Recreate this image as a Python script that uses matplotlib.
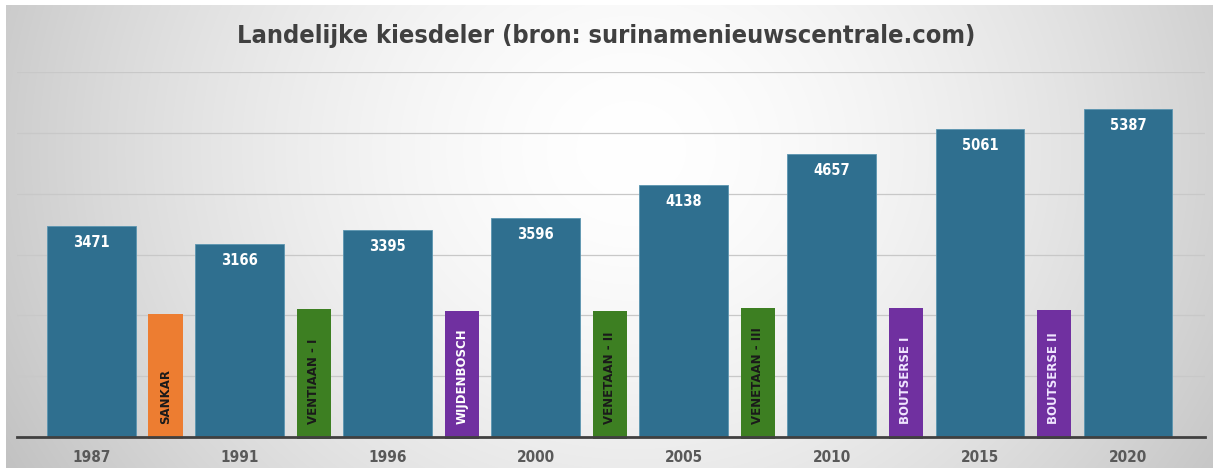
import numpy as np
import matplotlib
matplotlib.use("Agg")
import matplotlib.pyplot as plt
from matplotlib import font_manager
from matplotlib.font_manager import FontProperties

years = ["1987", "1991", "1996", "2000", "2005", "2010", "2015", "2020"]
kiesdeler = [3471, 3166, 3395, 3596, 4138, 4657, 5061, 5387]
presidents = ["SANKAR", "VENTIAAN - I", "WIJDENBOSCH", "VENETAAN - II",
              "VENETAAN - III", "BOUTSERSE I", "BOUTSERSE II"]
president_heights = [2030, 2100, 2070, 2070, 2120, 2120, 2090]
president_colors = ["#ED7D31", "#3D7F22", "#7030A0", "#3D7F22",
                    "#3D7F22", "#7030A0", "#7030A0"]
president_text = ["#1a1a1a", "#1a1a1a", "#ffffff", "#1a1a1a",
                  "#1a1a1a", "#f0e6ff", "#f0e6ff"]
title = "Landelijke kiesdeler (bron: surinamenieuwscentrale.com)"

# try to find a condensed bold face
cond_fp = None
try:
    p = font_manager.findfont(FontProperties(family="DejaVu Sans", stretch="condensed",
                                             weight="bold"), fallback_to_default=False)
    if "ondensed" in p:
        cond_fp = p
except Exception:
    pass
if cond_fp is None:
    for f in font_manager.fontManager.ttflist:
        if ("Narrow" in f.fname or "Condensed" in f.fname) and f.weight in (700, "bold"):
            cond_fp = f.fname
            break


def fp(size):
    if cond_fp:
        return FontProperties(fname=cond_fp, size=size)
    return FontProperties(family="DejaVu Sans", weight="bold", size=size * 0.86)


W, H = 1213, 468
fig = plt.figure(figsize=(W / 100, H / 100), dpi=100)

# background radial gradient
bg = fig.add_axes([0, 0, 1, 1])
yy, xx = np.mgrid[0:H, 0:W]
dx = (xx - W * 0.52) / (W * 0.56)
dy = (yy - H * 0.32) / (H * 1.3)
r = np.sqrt(dx ** 2 + dy ** 2)
v = 1.0 - 0.22 * np.clip(r, 0, 1.1) ** 1.6
img = np.dstack([v, v, v])
img[:5, :, :] = 1.0
img[:, :6, :] = 1.0
bg.imshow(np.clip(img, 0, 1), aspect="auto", extent=[0, 1, 0, 1], origin="upper")
bg.axis("off")

ax = fig.add_axes([17 / W, 1 - 437 / H, (1205 - 17) / W, (437 - 72) / H])
ax.patch.set_alpha(0)
x = np.arange(len(years))
ax.bar(x, kiesdeler, width=0.6, color="#2F6F8F", edgecolor="#5b95b0",
       linewidth=0.6, zorder=3)
xp = x[:-1] + 0.5
ax.bar(xp, np.array(president_heights) + 40, bottom=-40, width=0.23,
       color=president_colors, zorder=3, clip_on=False)

for xi, val in zip(x, kiesdeler):
    ax.text(xi, val - 270, str(val), ha="center", va="center", color="white",
            fontproperties=fp(10.5), zorder=5)
for xi, name, tc in zip(xp, presidents, president_text):
    ax.text(xi, 210, name, rotation=90, ha="center", va="bottom", color=tc,
            fontsize=8.5, fontweight="bold", zorder=5)

ax.set_xlim(-0.503, 7.52)
ax.set_ylim(0, 6000)
ax.set_yticks([1000, 2000, 3000, 4000, 5000, 6000])
ax.yaxis.grid(True, color="#c8c8c8", linewidth=0.9, zorder=0)
ax.tick_params(axis="y", length=0, labelleft=False)
ax.set_xticks(x)
ax.set_xticklabels(years, color="#595959")
for lab in ax.get_xticklabels():
    lab.set_fontproperties(fp(11))
ax.tick_params(axis="x", length=0, pad=9)
for s in ["top", "right", "left"]:
    ax.spines[s].set_visible(False)
ax.spines["bottom"].set_color("#404040")
ax.spines["bottom"].set_linewidth(2)
ax.spines["bottom"].set_zorder(4)

fig.text(0.5, 1 - 36 / H, title, ha="center", va="center", color="#404040",
         fontproperties=fp(18.2))

fig.savefig("out.png", dpi=100)
